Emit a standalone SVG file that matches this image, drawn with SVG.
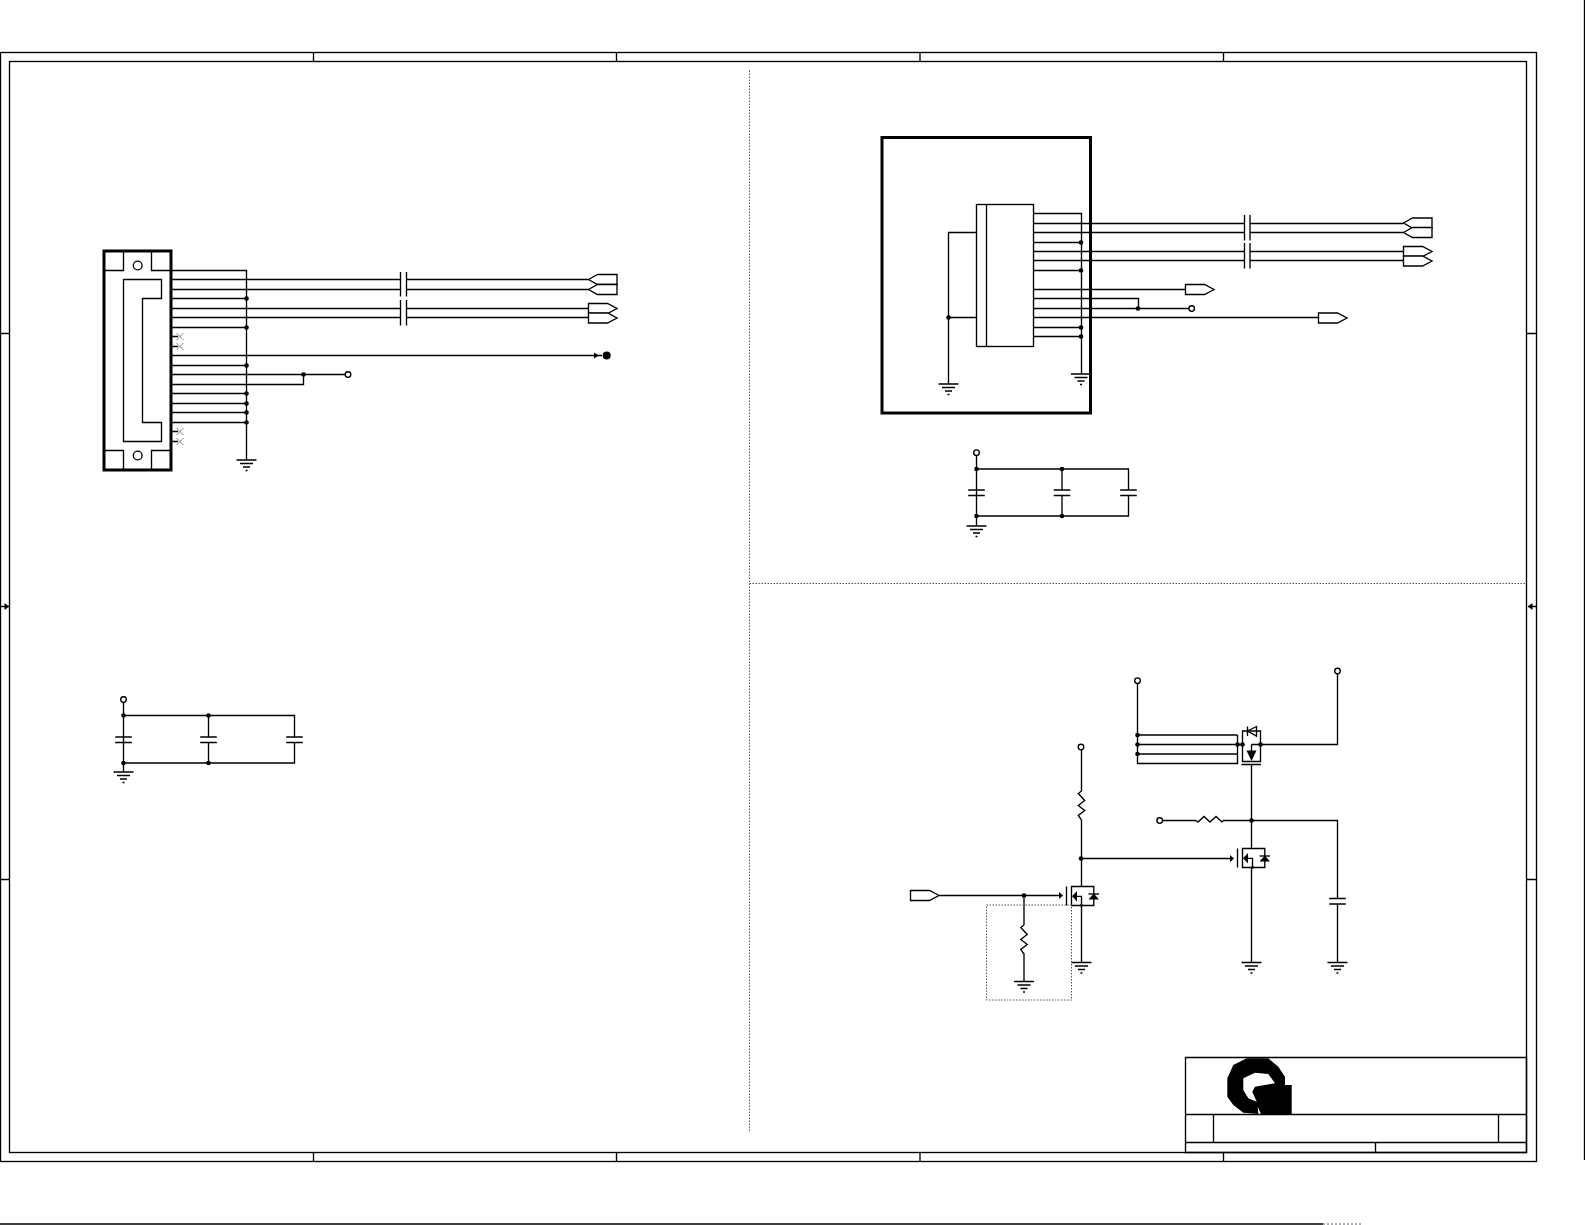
<svg xmlns="http://www.w3.org/2000/svg" xmlns:xlink="http://www.w3.org/1999/xlink" width="1585" height="1225" viewBox="0 0 1585 1225">
<style>
.l{fill:none;stroke:#000;stroke-width:1.35}
.w{fill:#fff;stroke:#000;stroke-width:1.35}
.h{fill:none;stroke:#000;stroke-width:3}
.f{fill:#000;stroke:none}
.x{fill:none;stroke:#888;stroke-width:1}
.d{fill:none;stroke:#555;stroke-width:1;stroke-dasharray:1.5 1.5}
</style>
<defs>
<g id="gnd"><path class="l" d="M-10 0H10M-6.500 3.500H6.500M-3.500 7H3.500M-1 10.500H1"/></g>
<circle id="dot" class="f" r="2.300"/>
<circle id="tp" class="w" r="2.800"/>
<g id="capv"><path class="l" d="M-8.300 0H8.300M-8.300 5.500H8.300"/></g>
<g id="rv"><path class="l" d="M0 0L-3.200 2.500L3.200 9.500L-3.200 14.500L3.200 19.500L-3.200 24.500L0 29"/></g>
<g id="rh"><path class="l" d="M0 0L2 1.500L8 -4L14 1.500L20 -4L26 1.500L27 0"/></g>
<g id="nc"><path class="x" d="M-3.500 -3.500L3.500 3.500M-3.500 3.500L3.500 -3.500"/></g>
<g id="offr"><path class="w" d="M0 -5H19L28.500 0L19 5H0Z"/></g>
<g id="offl"><path class="w" d="M0 0L9 -5H28.500V5H9Z"/></g>
<g id="nmos">
<path class="l" d="M0 0H22.300V19H0ZM-5 0V19M10 19V9.800H5"/>
<polygon class="f" points="0.500,9.800 5.500,4.500 5.500,15"/>
<polygon class="f" points="22.300,7 27.500,13 17,13"/>
<path class="l" d="M17 7.500H27.500"/>
<circle class="f" cx="10" cy="19" r="1.400"/>
</g>
</defs>
<g id="frame">
<rect class="l" x="0.500" y="52.500" width="1536" height="1109"/>
<rect class="l" x="9.500" y="61.500" width="1517" height="1091"/>
<path class="l" d="M313.500 52.500V62M616.500 52.500V62M920 52.500V62M1223.500 52.500V62M313.500 1152V1162M616.500 1152V1162M920 1152V1162M1223.500 1152V1162M0.500 333.500H9.500M0.500 879.500H9.500M1527 333.500H1536.500M1527 879.500H1536.500"/>
<path class="l" d="M1 606.500H9M1528 606.500H1536"/>
<polygon class="f" points="9,606.500 4.500,603 4.500,610"/>
<polygon class="f" points="1528,606.500 1532.500,603 1532.500,610"/>
<path class="d" d="M749.500 70.500V1133M749.500 583.500H1526"/>
<path class="l" d="M0 1224H1323M1584.500 0V1160"/>
<path d="M1323 1224H1363" fill="none" stroke="#556" stroke-width="1" stroke-dasharray="2 2"/>
</g>
<g id="connectors">
<path class="l" d="M171.500 270.500H246.500V460M171.500 298.500H246.500M171.500 327.500H246.500M171.500 365.500H246.500M171.500 393.500H246.500M171.500 403.500H246.500M171.500 412.500H246.500M171.500 422.500H246.500"/>
<path class="l" d="M171.500 279.500H400.500M406.500 279.500H588.500M171.500 289.500H400.500M406.500 289.500H588.500M171.500 308.500H400.500M406.500 308.500H588.500M171.500 317.500H400.500M406.500 317.500H588.500"/>
<path class="l" d="M171.500 355.500H602M171.500 374.500H345.500M171.500 384.500H303.500V374.500"/>
<path class="l" d="M171.500 336.500H178M171.500 346.500H178M171.500 431.500H178M171.500 441.500H178"/>
<path class="l" d="M123.500 702V772M123.500 715.500H294.500V737M123.500 763H294.500V743M208.500 715.500V737M208.500 743V763"/>
<path class="l" d="M976.500 232.500H948.500V384M948.500 317.500H976.500"/>
<path class="l" d="M1033.500 213.500H1081.500V374M1033.500 242.500H1081.500M1033.500 270.500H1081.500M1033.500 327.500H1081.500M1033.500 336.500H1081.500"/>
<path class="l" d="M1033.500 223.500H1244.500M1250 223.500H1403.500M1033.500 232.500H1244.500M1250 232.500H1403.500M1033.500 251.500H1244.500M1250 251.500H1403.500M1033.500 260.500H1244.500M1250 260.500H1403.500"/>
<path class="l" d="M1033.500 289.500H1185.500M1033.500 298.500H1138.500V308.500M1033.500 308.500H1189M1033.500 317.500H1318.500"/>
<path class="l" d="M976.500 455.500V526M976.500 469H1128.500V490M976.500 516H1128.500V496M1062 469V490M1062 496V516"/>
<path class="l" d="M1137.500 683.500V763.500H1237.500V735M1137.500 735H1237.500M1137.500 744.500H1242.500M1137.500 754H1237.500"/>
<path class="l" d="M1251.500 744.500H1337.500V673.500"/>
<path class="l" d="M1251.500 764.500V848.500M1251.500 867.500V962.500"/>
<path class="l" d="M1162.500 820.500H1196M1223 820.500H1337.500V898.500M1337.500 904V962.500"/>
<path class="l" d="M1081.500 749.500V791M1081.500 820V886.500M1081.500 905.500V962.500M1081.500 858.500H1232"/>
<path class="l" d="M939.500 895.500H1061M1024 895.500V925M1024 953.500V981.500"/>
<g id="junctions">
<use xlink:href="#dot" x="246.500" y="298.500"/><use xlink:href="#dot" x="246.500" y="327.500"/><use xlink:href="#dot" x="246.500" y="365.500"/><use xlink:href="#dot" x="246.500" y="393.500"/><use xlink:href="#dot" x="246.500" y="403.500"/><use xlink:href="#dot" x="246.500" y="412.500"/><use xlink:href="#dot" x="246.500" y="422.500"/>
<use xlink:href="#dot" x="303.500" y="374.500"/>
<use xlink:href="#dot" x="1081" y="242.500"/><use xlink:href="#dot" x="1081" y="270.500"/><use xlink:href="#dot" x="1081" y="327.500"/><use xlink:href="#dot" x="1081" y="336.500"/>
<use xlink:href="#dot" x="948.500" y="317.500"/><use xlink:href="#dot" x="1138" y="308.500"/>
<use xlink:href="#dot" x="123.500" y="715.500"/><use xlink:href="#dot" x="208.500" y="715.500"/><use xlink:href="#dot" x="123.500" y="763"/><use xlink:href="#dot" x="208.500" y="763"/>
<use xlink:href="#dot" x="976.500" y="469"/><use xlink:href="#dot" x="1062" y="469"/><use xlink:href="#dot" x="976.500" y="516"/><use xlink:href="#dot" x="1062" y="516"/>
<use xlink:href="#dot" x="1137.500" y="735"/><use xlink:href="#dot" x="1137.500" y="744.500"/><use xlink:href="#dot" x="1137.500" y="754"/>
<use xlink:href="#dot" x="1237.500" y="744.500"/><use xlink:href="#dot" x="1242.500" y="744.500"/><use xlink:href="#dot" x="1260.500" y="744.500"/>
<use xlink:href="#dot" x="1251.500" y="820.500"/><use xlink:href="#dot" x="1081" y="858.500"/><use xlink:href="#dot" x="1024" y="895.500"/>
</g>
<polygon class="f" points="599,355.500 594,352.500 594,358.500"/>
<polygon class="f" points="1234,858.500 1230,855 1230,862"/>
<polygon class="f" points="1063,895.500 1059,892 1059,899"/>
</g>
<g id="J1">
<rect class="h" x="104" y="251" width="67" height="219"/>
<path class="l" d="M104 270.500H123.500V251M151.500 251V270.500H171M104 450.500H123.500V470M151.500 470V450.500H171"/>
<circle class="l" cx="137.700" cy="265.500" r="4.400"/>
<circle class="l" cx="137.700" cy="455.500" r="4.400"/>
<path class="l" d="M123.500 279.500H161.500V298.500H142.500V422.500H161.500V441.500H123.500Z"/>
<use xlink:href="#nc" x="180" y="336.500"/><use xlink:href="#nc" x="180" y="346.500"/><use xlink:href="#nc" x="180" y="431.500"/><use xlink:href="#nc" x="180" y="441.500"/>
</g>
<g id="GND-J1"><use xlink:href="#gnd" x="246.500" y="460"/></g>
<g id="C-J1a"><path class="l" d="M400.500 272V296.500M406.500 272V296.500"/></g>
<g id="C-J1b"><path class="l" d="M400.500 300V325.500M406.500 300V325.500"/></g>
<g id="off-J1-1"><use xlink:href="#offl" x="588.500" y="279.500"/></g>
<g id="off-J1-2"><use xlink:href="#offl" x="588.500" y="289.500"/></g>
<g id="off-J1-3"><use xlink:href="#offr" x="588.500" y="308.500"/></g>
<g id="off-J1-4"><use xlink:href="#offr" x="588.500" y="318"/></g>
<g id="term-J1"><circle class="f" cx="606.700" cy="355.500" r="4"/></g>
<g id="tp-J1"><use xlink:href="#tp" x="348" y="374.500"/></g>
<g id="decap-left">
<use xlink:href="#tp" x="123.500" y="699.500"/>
<use xlink:href="#capv" x="123.500" y="737"/><use xlink:href="#capv" x="208.500" y="737"/><use xlink:href="#capv" x="294.500" y="737"/>
<use xlink:href="#gnd" x="123.500" y="772"/>
</g>
<g id="U1-box"><rect class="h" x="882" y="137.500" width="208.500" height="275.500"/></g>
<g id="U1"><rect class="l" x="976.500" y="204.500" width="57" height="142"/><path class="l" d="M986.500 204.500V346.500"/></g>
<g id="GND-U1a"><use xlink:href="#gnd" x="948.500" y="384"/></g>
<g id="GND-U1b"><use xlink:href="#gnd" x="1081" y="374"/></g>
<g id="C-U1a"><path class="l" d="M1244.500 215V240.500M1250 215V240.500"/></g>
<g id="C-U1b"><path class="l" d="M1244.500 243V268.500M1250 243V268.500"/></g>
<g id="off-U1-1"><use xlink:href="#offl" x="1403.500" y="223"/></g>
<g id="off-U1-2"><use xlink:href="#offl" x="1403.500" y="232.500"/></g>
<g id="off-U1-3"><use xlink:href="#offr" x="1403.500" y="251.500"/></g>
<g id="off-U1-4"><use xlink:href="#offr" x="1403.500" y="261"/></g>
<g id="off-U1-5"><use xlink:href="#offr" x="1185.500" y="289.500"/></g>
<g id="off-U1-6"><use xlink:href="#offr" x="1318.500" y="318"/></g>
<g id="tp-U1"><use xlink:href="#tp" x="1191.700" y="308.500"/></g>
<g id="decap-right">
<use xlink:href="#tp" x="976.500" y="452.700"/>
<use xlink:href="#capv" x="976.500" y="490"/><use xlink:href="#capv" x="1062" y="490"/><use xlink:href="#capv" x="1128.500" y="490"/>
<use xlink:href="#gnd" x="976.500" y="526"/>
</g>
<g id="Q-top">
<path class="l" d="M1242.500 744.500V731H1260.500V761.500H1242.500V744.500M1241.500 764.500H1261"/>
<path class="l" d="M1247.500 726.500V736M1247.500 731L1256.500 726.500V736Z"/>
<polygon class="f" points="1246.500,750.500 1256.500,750.500 1251.500,761"/>
<path class="l" d="M1251.500 744.500V751"/>
</g>
<g id="tp-power">
<use xlink:href="#tp" x="1137.500" y="680.700"/><use xlink:href="#tp" x="1337.500" y="671"/><use xlink:href="#tp" x="1159.700" y="820.500"/><use xlink:href="#tp" x="1081" y="747"/>
</g>
<g id="R-h"><use xlink:href="#rh" x="1196" y="820.500"/></g>
<g id="R-top"><use xlink:href="#rv" x="1081.500" y="791"/></g>
<g id="R-pd"><use xlink:href="#rv" x="1024" y="925"/></g>
<g id="Q-mid"><use xlink:href="#nmos" x="1242.500" y="848.500"/></g>
<g id="Q-low"><use xlink:href="#nmos" x="1071.500" y="886.500"/></g>
<g id="C-out"><use xlink:href="#capv" x="1337.500" y="898.500"/></g>
<g id="grounds-q"><use xlink:href="#gnd" x="1081.500" y="962.500"/><use xlink:href="#gnd" x="1251.500" y="962.500"/><use xlink:href="#gnd" x="1337.500" y="962.500"/><use xlink:href="#gnd" x="1024" y="981.500"/></g>
<g id="off-gate"><use xlink:href="#offr" x="910.500" y="895.500"/></g>
<rect id="region" class="d" x="986.500" y="905" width="85" height="95"/>
<g id="title-block">
<path class="l" d="M1185.500 1057.500H1526.500V1152.500H1185.500ZM1185.500 1114.500H1526.500M1185.500 1142.500H1526.500M1213.500 1114.500V1142.500M1498.500 1114.500V1142.500M1375.500 1142.500V1152.500"/>
<path class="f" fill-rule="evenodd" d="M1246.700 1058.300L1268.300 1058.300L1278.300 1066.700L1285 1076.700V1085H1291.700V1114H1261L1257.700 1106.700L1258.300 1114L1243.300 1112.700L1233.300 1105L1227.300 1096.700V1078.300L1233.300 1065ZM1243.300 1078.300L1255 1072.700L1268.300 1074L1275 1083.300L1255 1086.700L1252.300 1091.700L1256.700 1101.700L1248.300 1098.300L1243.300 1090Z"/>
</g>
</svg>
